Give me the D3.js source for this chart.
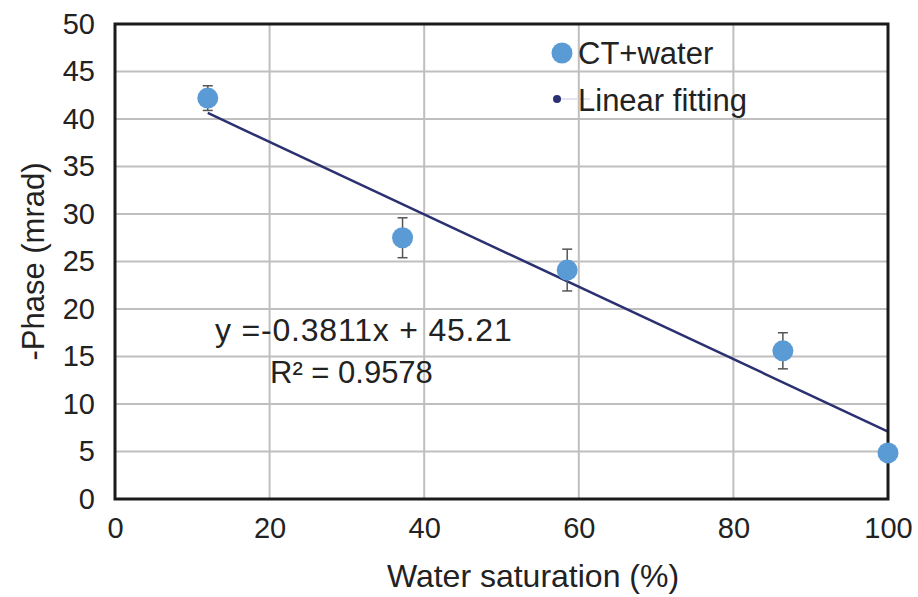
<!DOCTYPE html>
<html><head><meta charset="utf-8">
<script src="https://cdn.jsdelivr.net/npm/d3@7"></script>
<style>body{margin:0;background:#fff;}svg{display:block;font-family:"Liberation Sans",Arial,sans-serif;}</style>
</head><body>
<svg id="c" width="918" height="597"></svg>
<script>
const saturation = [12, 37.2, 58.5, 86.4, 100];
const phase = [42.2, 27.5, 24.1, 15.6, 4.85];
const errors = [1.3, 2.1, 2.2, 1.9, 0];
const xTicks = [0, 20, 40, 60, 80, 100];
const yTicks = [0, 5, 10, 15, 20, 25, 30, 35, 40, 45, 50];
const slope = -0.3811, intercept = 45.21;
const fitRange = [12, 100];
const legendLabels = ["CT+water", "Linear fitting"];
const eqLines = ["y =-0.3811x + 45.21", "R\u00b2 = 0.9578"];

const svg = d3.select("#c");
const L = 115, R = 888, T = 24, B = 499;
const x = d3.scaleLinear().domain([0, 100]).range([L, R]);
const y = d3.scaleLinear().domain([0, 50]).range([B, T]);
const FONT = "Liberation Sans, Arial, sans-serif";

// grid
svg.append("g").selectAll("line").data(xTicks.slice(1, -1)).join("line")
  .attr("x1", d => x(d)).attr("x2", d => x(d)).attr("y1", T).attr("y2", B)
  .attr("stroke", "#bfbfbf").attr("stroke-width", 2);
svg.append("g").selectAll("line").data(yTicks.slice(1, -1)).join("line")
  .attr("y1", d => y(d)).attr("y2", d => y(d)).attr("x1", L).attr("x2", R)
  .attr("stroke", "#bfbfbf").attr("stroke-width", 2);

// axes labels
const xAxis = d3.axisBottom(x).tickValues(xTicks).tickSize(0).tickPadding(18);
const gx = svg.append("g").attr("transform", `translate(0,${B})`).call(xAxis);
gx.select(".domain").remove();
gx.selectAll("text").attr("font-size", 29).attr("fill", "#222").attr("font-family", FONT);
const yAxis = d3.axisLeft(y).tickValues(yTicks).tickSize(0).tickPadding(20);
const gy = svg.append("g").attr("transform", `translate(${L},0)`).call(yAxis);
gy.select(".domain").remove();
gy.selectAll("text").attr("font-size", 29).attr("fill", "#222").attr("font-family", FONT);

// fitting line
svg.append("line")
  .attr("x1", x(fitRange[0])).attr("y1", y(slope * fitRange[0] + intercept))
  .attr("x2", x(fitRange[1])).attr("y2", y(slope * fitRange[1] + intercept))
  .attr("stroke", "#2b3170").attr("stroke-width", 2.5);

// frame
svg.append("rect").attr("x", L).attr("y", T).attr("width", R - L).attr("height", B - T)
  .attr("fill", "none").attr("stroke", "#1a1a1a").attr("stroke-width", 3);

// error bars
const data = saturation.map((s, i) => ({s, p: phase[i], e: errors[i]}));
const eb = svg.append("g").attr("stroke", "#555").attr("stroke-width", 1.5);
data.filter(d => d.e > 0).forEach(d => {
  eb.append("line").attr("x1", x(d.s)).attr("x2", x(d.s)).attr("y1", y(d.p + d.e)).attr("y2", y(d.p - d.e));
  eb.append("line").attr("x1", x(d.s) - 5).attr("x2", x(d.s) + 5).attr("y1", y(d.p + d.e)).attr("y2", y(d.p + d.e));
  eb.append("line").attr("x1", x(d.s) - 5).attr("x2", x(d.s) + 5).attr("y1", y(d.p - d.e)).attr("y2", y(d.p - d.e));
});

// points
svg.append("g").selectAll("circle").data(data).join("circle")
  .attr("cx", d => x(d.s)).attr("cy", d => y(d.p)).attr("r", 10.5)
  .attr("fill", "#5b9bd5");

// legend
svg.append("circle").attr("cx", 562).attr("cy", 53).attr("r", 10.5).attr("fill", "#5b9bd5");
svg.append("text").attr("x", 578).attr("y", 64).attr("font-size", 31).attr("fill", "#222").text(legendLabels[0]);
svg.append("line").attr("x1", 557).attr("x2", 590).attr("y1", 99).attr("y2", 99).attr("stroke", "#c9cbe0").attr("stroke-width", 1);
svg.append("circle").attr("cx", 557).attr("cy", 99).attr("r", 4).attr("fill", "#2b3170");
svg.append("text").attr("x", 578).attr("y", 111).attr("font-size", 31).attr("fill", "#222").text(legendLabels[1]);

// equation
svg.append("text").attr("x", 215).attr("y", 341).attr("font-size", 32).attr("letter-spacing", 0.8).attr("fill", "#222").text(eqLines[0]);
svg.append("text").attr("x", 270).attr("y", 383).attr("font-size", 31).attr("fill", "#222").text(eqLines[1]);

// axis titles
svg.append("text").attr("x", 533).attr("y", 587).attr("text-anchor", "middle")
  .attr("font-size", 32).attr("fill", "#222").text("Water saturation (%)");
svg.append("text").attr("transform", `translate(44,${(T + B) / 2}) rotate(-90)`).attr("text-anchor", "middle")
  .attr("font-size", 31).attr("fill", "#222").text("-Phase (mrad)");
</script>
</body></html>
